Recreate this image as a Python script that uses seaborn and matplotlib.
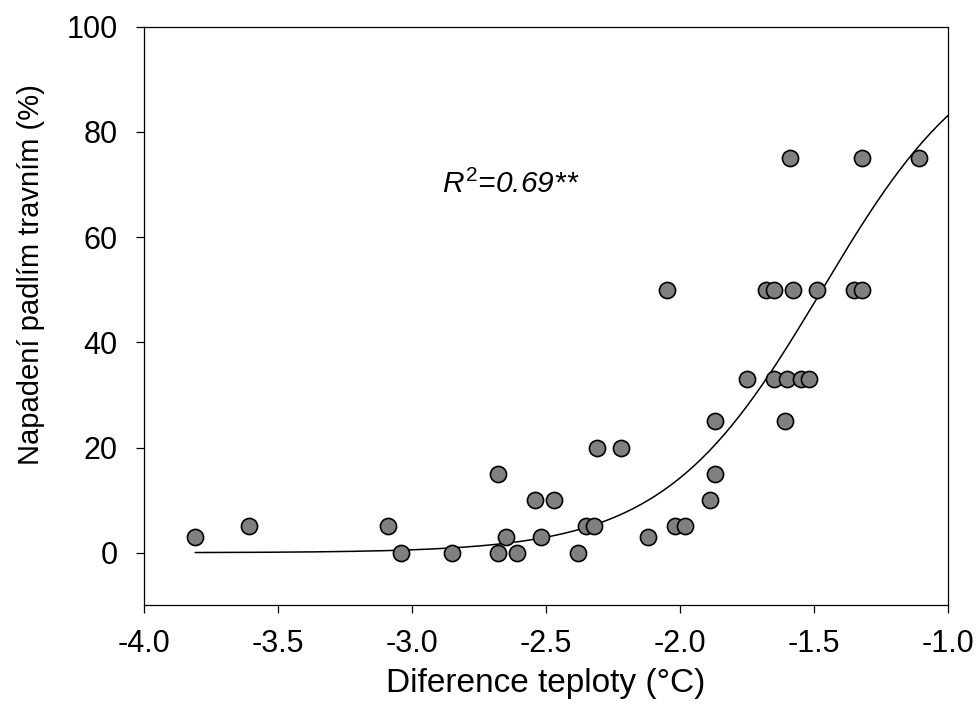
import matplotlib
matplotlib.use("Agg")
import matplotlib.pyplot as plt
import numpy as np
import pandas as pd
import seaborn as sns

# temperature difference (°C) and infestation (%)
teplota = [-3.81, -3.61, -3.09, -3.04, -2.85, -2.68, -2.68, -2.65, -2.61, -2.54,
           -2.52, -2.47, -2.38, -2.35, -2.32, -2.31, -2.22, -2.12, -2.05, -2.02,
           -1.98, -1.89, -1.87, -1.87, -1.75, -1.68, -1.65, -1.65, -1.61, -1.60,
           -1.59, -1.58, -1.55, -1.52, -1.49, -1.35, -1.32, -1.32, -1.11]
napadeni = [3, 5, 5, 0, 0, 15, 0, 3, 0, 10,
            3, 10, 0, 5, 5, 20, 20, 3, 50, 5,
            5, 10, 15, 25, 33, 50, 50, 33, 25, 33,
            75, 50, 33, 33, 50, 50, 50, 75, 75]

# sigmoid fit y = a / (1 + exp(-(x - x0) / b))
fit_a = 100.0
fit_x0 = -1.47
fit_b = 0.295
fit_range = (-3.81, -1.0)

x_ticks = [-4.0, -3.5, -3.0, -2.5, -2.0, -1.5, -1.0]
y_ticks = [0, 20, 40, 60, 80, 100]


def main():
    sns.set_style("ticks")
    plt.rcParams["font.family"] = ["Liberation Sans", "DejaVu Sans"]
    plt.rcParams["mathtext.fontset"] = "custom"
    plt.rcParams["mathtext.rm"] = "Liberation Sans"
    plt.rcParams["mathtext.it"] = "Liberation Sans:italic"
    plt.rcParams["text.color"] = "black"
    plt.rcParams["axes.labelcolor"] = "black"

    df = pd.DataFrame({"x": teplota, "y": napadeni})
    xs = np.linspace(fit_range[0], fit_range[1], 300)
    curve = pd.DataFrame({"x": xs, "y": fit_a / (1 + np.exp(-(xs - fit_x0) / fit_b))})

    fig = plt.figure(figsize=(9.78, 7.06), dpi=100)
    ax = fig.add_axes([0.1475, 0.1426, 0.8218, 0.8196])

    sns.lineplot(data=curve, x="x", y="y", ax=ax, color="black", linewidth=1.1)
    sns.scatterplot(data=df, x="x", y="y", ax=ax, s=135, color="#808080",
                    edgecolor="black", linewidth=1.2, zorder=3)

    ax.set_xlim(-4.0, -1.0)
    ax.set_ylim(-10, 100)
    ax.set_xticks(x_ticks)
    ax.set_xticklabels([f"{t:.1f}" for t in x_ticks])
    ax.set_yticks(y_ticks)

    for s in ax.spines.values():
        s.set_visible(True)
        s.set_linewidth(0.9)
        s.set_color("black")
    ax.tick_params(axis="both", direction="out", length=6, width=0.9,
                   labelsize=22, colors="black")
    ax.tick_params(axis="x", pad=11)
    ax.tick_params(axis="y", pad=13)

    ax.set_xlabel("Diference teploty (°C)", fontsize=24)
    ax.set_ylabel("Napadení padlím travním (%)", fontsize=21)
    ax.xaxis.set_label_coords(0.5, -0.108)
    ax.yaxis.set_label_coords(-0.124, 0.571)

    ax.text(-2.89, 68.3, r"$R^2$=0.69**", fontsize=21.5, style="italic",
            ha="left", va="baseline")

    fig.savefig("out.png", dpi=100)


if __name__ == "__main__":
    main()
